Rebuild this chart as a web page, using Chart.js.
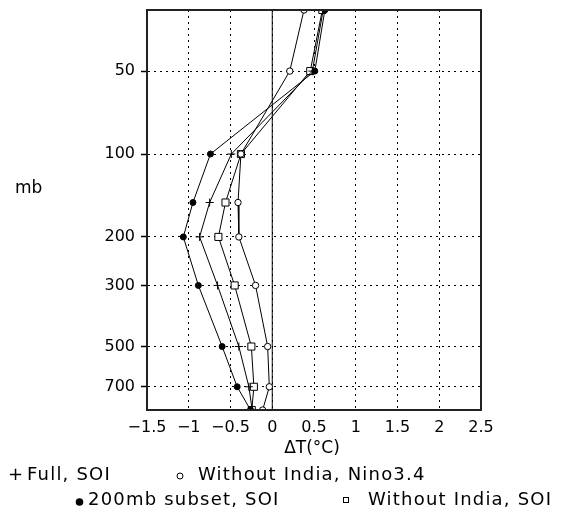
<!DOCTYPE html>
<html>
<head>
<meta charset="utf-8">
<script src="https://cdn.jsdelivr.net/npm/chart.js@4/dist/chart.umd.min.js"></script>
<style>
  body { margin: 0; background: #fff; }
  canvas { display: block; }
</style>
</head>
<body>
<canvas id="myChart" width="567" height="511"></canvas>
<script>
// pressure levels (mb) and temperature anomalies (deg C)
const LEVELS = [30, 50, 100, 150, 200, 300, 500, 700, 850];
const Y_TICKS = [50, 100, 200, 300, 500, 700];
const fullSOI = [0.61, 0.48, -0.49, -0.75, -0.87, -0.655, -0.40, -0.28, -0.24];
const noIndiaNino = [0.38, 0.21, -0.375, -0.41, -0.40, -0.20, -0.055, -0.035, -0.115];
const subset200 = [0.63, 0.51, -0.74, -0.95, -1.065, -0.885, -0.60, -0.42, -0.26];
const noIndiaSOI = [0.60, 0.455, -0.375, -0.56, -0.645, -0.45, -0.25, -0.22, -0.245];

function profile(values) {
  return values.map((v, i) => ({x: v, y: LEVELS[i]}));
}

function minus(v) {
  return v < 0 ? '\u2212' + Math.abs(v) : String(v);
}

Chart.defaults.font.family = 'DejaVu Sans';
Chart.defaults.font.size = 16;
Chart.defaults.color = '#000';

const extras = {
  id: 'extras',
  beforeDatasetsDraw(chart) {
    const {ctx, chartArea: a, scales: {x}} = chart;
    const x0 = x.getPixelForValue(0);
    ctx.save();
    ctx.strokeStyle = '#000';
    ctx.lineWidth = 1;
    ctx.beginPath();
    ctx.moveTo(x0, a.top);
    ctx.lineTo(x0, a.bottom);
    ctx.stroke();
    ctx.restore();
  },
  afterDraw(chart) {
    const {ctx, chartArea: a} = chart;
    ctx.save();
    ctx.strokeStyle = '#222';
    ctx.lineWidth = 2;
    ctx.strokeRect(a.left, a.top, a.right - a.left, a.bottom - a.top);

    ctx.fillStyle = '#000';
    ctx.textBaseline = 'middle';
    ctx.font = '17px DejaVu Sans';
    ctx.textAlign = 'center';
    ctx.fillText('\u0394T(\u00b0C)', 312, 449);
    ctx.textAlign = 'left';
    ctx.fillText('mb', 15, 189);

    // legend
    ctx.font = '18px DejaVu Sans';
    ctx.letterSpacing = '1.2px';
    ctx.fillText('+', 8, 475);
    ctx.fillText('Full, SOI', 27, 475);
    ctx.fillText('Without India, Nino3.4', 198, 475);
    ctx.fillText('200mb subset, SOI', 88, 500);
    ctx.fillText('Without India, SOI', 368, 500);
    ctx.lineWidth = 1;
    ctx.strokeStyle = '#000';
    ctx.beginPath();
    ctx.arc(180, 476, 3, 0, Math.PI * 2);
    ctx.stroke();
    ctx.beginPath();
    ctx.arc(79.5, 502, 3.8, 0, Math.PI * 2);
    ctx.fill();
    ctx.strokeRect(343.5, 497.5, 5, 5);
    ctx.restore();
  }
};

const config = {
  type: 'scatter',
  data: {
    datasets: [{
      label: 'Full, SOI',
      data: profile(fullSOI),
      pointStyle: 'cross',
      pointRadius: 4,
      borderColor: '#000',
      backgroundColor: '#000'
    }, {
      label: 'Without India, Nino3.4',
      data: profile(noIndiaNino),
      pointStyle: 'circle',
      pointRadius: 3.2,
      borderColor: '#000',
      backgroundColor: '#fff'
    }, {
      label: '200mb subset, SOI',
      data: profile(subset200),
      pointStyle: 'circle',
      pointRadius: 3,
      borderColor: '#000',
      backgroundColor: '#000'
    }, {
      label: 'Without India, SOI',
      data: profile(noIndiaSOI),
      pointStyle: 'rect',
      pointRadius: 5,
      borderColor: '#000',
      backgroundColor: '#fff'
    }]
  },
  options: {
    responsive: false,
    animation: false,
    showLine: true,
    elements: {
      line: { borderWidth: 1, tension: 0 },
      point: { borderWidth: 1 }
    },
    layout: { padding: { left: 0, top: 10, right: 86, bottom: 0 } },
    scales: {
      x: {
        type: 'linear',
        min: -1.5,
        max: 2.5,
        ticks: { stepSize: 0.5, padding: 8, autoSkip: false, maxRotation: 0, callback: v => minus(v) },
        grid: { color: '#000', drawTicks: false, lineWidth: 1 },
        border: { dash: [2, 4], color: '#222', width: 2 },
        afterFit: s => { s.height = 101; s.paddingLeft = 0; s.paddingRight = 0; }
      },
      y: {
        type: 'logarithmic',
        reverse: true,
        min: 30,
        max: 850,
        afterBuildTicks: s => { s.ticks = Y_TICKS.map(v => ({value: v})); },
        ticks: { padding: 6, autoSkip: false, callback: v => String(v) },
        grid: { color: '#000', tickLength: 6, tickColor: '#000', tickWidth: 1.5 },
        border: { dash: [2, 4], color: '#222', width: 2 },
        afterFit: s => { s.width = 147; s.paddingTop = 0; s.paddingBottom = 0; }
      }
    },
    plugins: {
      legend: { display: false },
      tooltip: { enabled: false }
    }
  },
  plugins: [extras]
};

function buildChart() {
  const ctx = document.getElementById('myChart').getContext('2d');
  return new Chart(ctx, config);
}

window.addEventListener('load', () => {
  const myChart = buildChart();
});
</script>
</body>
</html>
